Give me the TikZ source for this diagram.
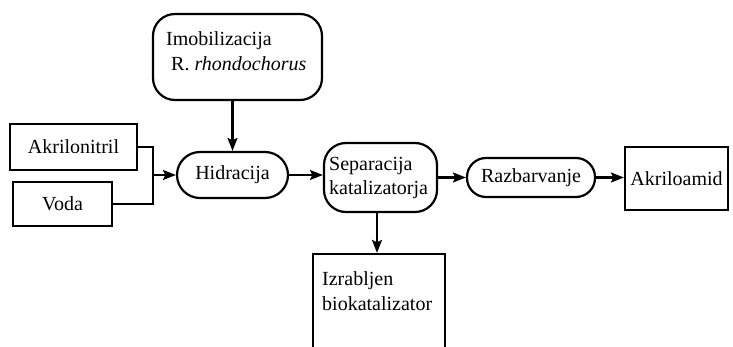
\documentclass[tikz,border=0pt]{standalone}
\usepackage{fontspec}
\setmainfont{Liberation Serif}
\usetikzlibrary{arrows.meta}
\tikzset{
  lw/.style={line width=2.2pt},
  sqbox/.style={draw, lw, rectangle},
  rbox/.style={draw, lw, rectangle, rounded corners=22pt},
  pill/.style={draw, lw, rectangle, rounded corners=19pt},
  txt/.style={anchor=base west},
  arr/.style={lw, -{Stealth[length=13pt,width=10pt,inset=2.5pt]}}
}
\begin{document}
\begin{tikzpicture}[x=1pt,y=-1pt,
  every node/.style={font=\fontsize{20}{24}\selectfont, inner sep=0pt}
]
\useasboundingbox (0,0) rectangle (733,347);
% boxes
\node[rbox, minimum width=169pt, minimum height=86pt] (imob) at (237.5,57) {};
\node[txt] (imobA) at (166,46) {Imobilizacija};
\node[txt] (imobB) at (171,71) {R. \textit{rhondochorus}};

\node[sqbox, minimum width=127pt, minimum height=46pt] (akr) at (73.5,147) {Akrilonitril};
\node[sqbox, minimum width=99pt, minimum height=44pt] (voda) at (62.5,204) {Voda};

\node[draw, lw, rectangle, rounded corners=23pt, minimum width=111pt, minimum height=46pt] (hid) at (232.5,175) {Hidracija};

\node[rbox, minimum width=113pt, minimum height=69pt] (sep) at (380.5,177.5) {};
\node[txt] (sepA) at (329,171) {Separacija};
\node[txt] (sepB) at (329,195) {katalizatorja};

\node[pill, minimum width=128pt, minimum height=39pt] (razb) at (531,177.5) {Razbarvanje};

\node[sqbox, minimum width=103pt, minimum height=63pt] (akril) at (676.5,178.5) {Akriloamid};

\node[sqbox, minimum width=132pt, minimum height=120pt] (izr) at (379,314) {};
\node[txt] (izrA) at (322,285) {Izrabljen};
\node[txt] (izrB) at (322,310) {biokatalizator};

% connectors
\coordinate (jn) at (153,175);
\draw[lw] (akr.east) -| (jn) |- (voda.east);
\draw[arr] (jn) -- (hid.west);
\draw[arr] (imob.south -| hid.north) -- (hid.north);
\draw[arr] (hid.east) -- (sep.west |- hid.east);
\draw[arr] (sep.east |- razb.west) -- (razb.west);
\draw[arr] (razb.east) -- (akril.west |- razb.east);
\draw[arr] (sep.south -| 377,0) -- (izr.north -| 377,0);
\end{tikzpicture}
\end{document}
